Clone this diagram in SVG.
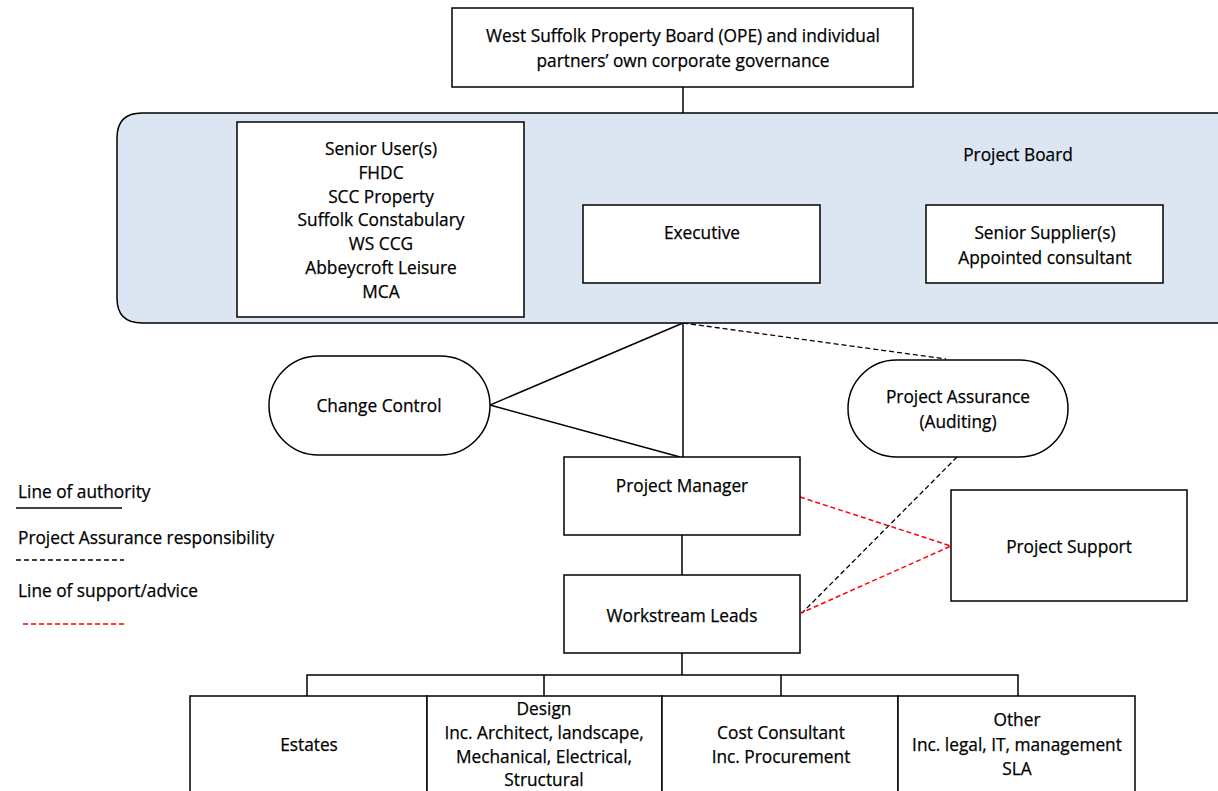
<svg xmlns="http://www.w3.org/2000/svg" width="1218" height="791" viewBox="0 0 1218 791">
<defs>
<style>
text{font-family:"Open Sans","Liberation Sans",sans-serif;font-size:17.3px;fill:#000;text-anchor:middle;stroke:#000;stroke-width:0.25}
.lg{text-anchor:start}
.box{fill:#fff;stroke:#000;stroke-width:1.5}
.board{fill:#dce6f2;stroke:#000;stroke-width:1.5}
.solid{fill:none;stroke:#000;stroke-width:1.5}
.dash{fill:none;stroke:#000;stroke-width:1.3;stroke-dasharray:5 3}
.red{fill:none;stroke:#ff0000;stroke-width:1.5;stroke-dasharray:5 3}
</style>
</defs>
<rect width="1218" height="791" fill="#fff"/>

<g id="connectors">
<line class="solid" x1="683" y1="87" x2="683" y2="113"/>
<polyline class="solid" points="683,323 490,405 680,457"/>
<line class="solid" x1="683" y1="323" x2="683" y2="457"/>
<line class="dash" x1="683" y1="323" x2="946" y2="359"/>
<line class="solid" x1="682" y1="535" x2="682" y2="575"/>
<line class="dash" x1="957" y1="457" x2="802" y2="613"/>
<polyline class="red" points="800,497 951,546 801,613"/>
<line class="solid" x1="682" y1="653" x2="682" y2="675"/>
<polyline class="solid" points="307,696 307,675 1018,675 1018,696"/>
<line class="solid" x1="544" y1="675" x2="544" y2="696"/>
<line class="solid" x1="781" y1="675" x2="781" y2="696"/>
</g>

<g id="governance">
<rect class="box" x="452" y="8" width="461" height="79"/>
<text x="683" y="42">West Suffolk Property Board (OPE) and individual</text>
<text x="683" y="67">partners’ own corporate governance</text>
</g>

<g id="project-board">
<path class="board" d="M1218,113 L142,113 Q117,113 117,138 L117,298 Q117,323 142,323 L1218,323"/>
<text x="1018" y="161">Project Board</text>
</g>

<g id="senior-users">
<rect class="box" x="237" y="122" width="287" height="195"/>
<text x="381" y="155">Senior User(s)</text>
<text x="381" y="179">FHDC</text>
<text x="381" y="203">SCC Property</text>
<text x="381" y="226">Suffolk Constabulary</text>
<text x="381" y="250">WS CCG</text>
<text x="381" y="274">Abbeycroft Leisure</text>
<text x="381" y="298">MCA</text>
</g>

<g id="executive">
<rect class="box" x="583" y="205" width="237" height="78"/>
<text x="702" y="239">Executive</text>
</g>

<g id="senior-suppliers">
<rect class="box" x="926" y="205" width="237" height="78"/>
<text x="1045" y="239">Senior Supplier(s)</text>
<text x="1045" y="264">Appointed consultant</text>
</g>

<g id="change-control">
<rect class="box" x="269" y="356" width="221" height="99" rx="49.5" ry="49.5"/>
<text x="379" y="412">Change Control</text>
</g>

<g id="project-assurance">
<rect class="box" x="848" y="360" width="220" height="97" rx="48.5" ry="48.5"/>
<text x="958" y="403">Project Assurance</text>
<text x="958" y="428">(Auditing)</text>
</g>

<g id="project-manager">
<rect class="box" x="564" y="457" width="236" height="78"/>
<text x="682" y="492">Project Manager</text>
</g>

<g id="workstream-leads">
<rect class="box" x="564" y="575" width="236" height="78"/>
<text x="682" y="622">Workstream Leads</text>
</g>

<g id="project-support">
<rect class="box" x="951" y="490" width="236" height="111"/>
<text x="1069" y="553">Project Support</text>
</g>

<g id="estates">
<rect class="box" x="190" y="696" width="237" height="110"/>
<text x="309" y="751">Estates</text>
</g>

<g id="design">
<rect class="box" x="427" y="696" width="235" height="110"/>
<text x="544" y="715">Design</text>
<text x="544" y="739">Inc. Architect, landscape,</text>
<text x="544" y="763">Mechanical, Electrical,</text>
<text x="544" y="786">Structural</text>
</g>

<g id="cost-consultant">
<rect class="box" x="662" y="696" width="236" height="110"/>
<text x="781" y="739">Cost Consultant</text>
<text x="781" y="763">Inc. Procurement</text>
</g>

<g id="other">
<rect class="box" x="898" y="696" width="237" height="110"/>
<text x="1017" y="726">Other</text>
<text x="1017" y="751">Inc. legal, IT, management</text>
<text x="1017" y="775">SLA</text>
</g>

<g id="legend">
<text class="lg" x="18" y="498">Line of authority</text>
<line class="solid" x1="16" y1="508" x2="122" y2="508"/>
<text class="lg" x="18" y="544">Project Assurance responsibility</text>
<line class="dash" x1="16" y1="560" x2="124" y2="560"/>
<text class="lg" x="18" y="597">Line of support/advice</text>
<line class="red" x1="23" y1="624" x2="124" y2="624"/>
</g>
</svg>
